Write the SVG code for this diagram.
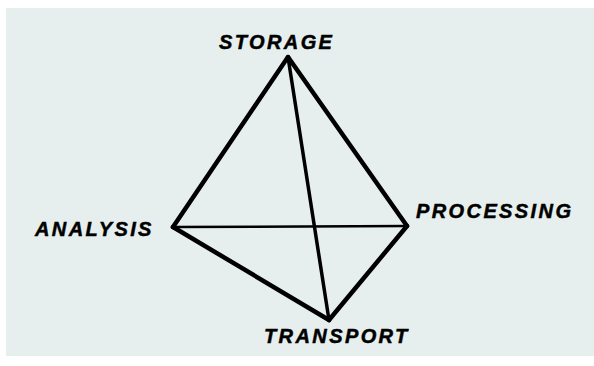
<svg xmlns="http://www.w3.org/2000/svg" width="594" height="366" viewBox="0 0 594 366">
<style>
.lbl{font-family:"Liberation Sans",Arial,sans-serif;font-weight:bold;font-style:italic;font-size:20px;fill:#000;stroke:#000;stroke-width:0.5px;letter-spacing:2.4px}
.e{stroke:#000;stroke-linecap:round;stroke-linejoin:round;fill:none}
</style>
<rect x="0" y="0" width="594" height="366" fill="#ffffff"/>
<rect x="6" y="8" width="588" height="348" fill="#e6efed"/>
<g id="edges">
<line class="e" x1="288" y1="57" x2="173" y2="227" stroke-width="4.5"/>
<line class="e" x1="288" y1="57" x2="407" y2="226" stroke-width="4.5"/>
<line class="e" x1="288" y1="57" x2="329" y2="320" stroke-width="3.5"/>
<line class="e" x1="173" y1="227" x2="407" y2="226" stroke-width="2.5"/>
<line class="e" x1="173" y1="227" x2="329" y2="320" stroke-width="4.5"/>
<line class="e" x1="407" y1="226" x2="329" y2="320" stroke-width="4.5"/>
</g>
<g id="storage"><text class="lbl" x="219" y="49">STORAGE</text></g>
<g id="analysis"><text class="lbl" x="35" y="236">ANALYSIS</text></g>
<g id="processing"><text class="lbl" x="416" y="218">PROCESSING</text></g>
<g id="transport"><text class="lbl" x="264" y="343">TRANSPORT</text></g>
</svg>
